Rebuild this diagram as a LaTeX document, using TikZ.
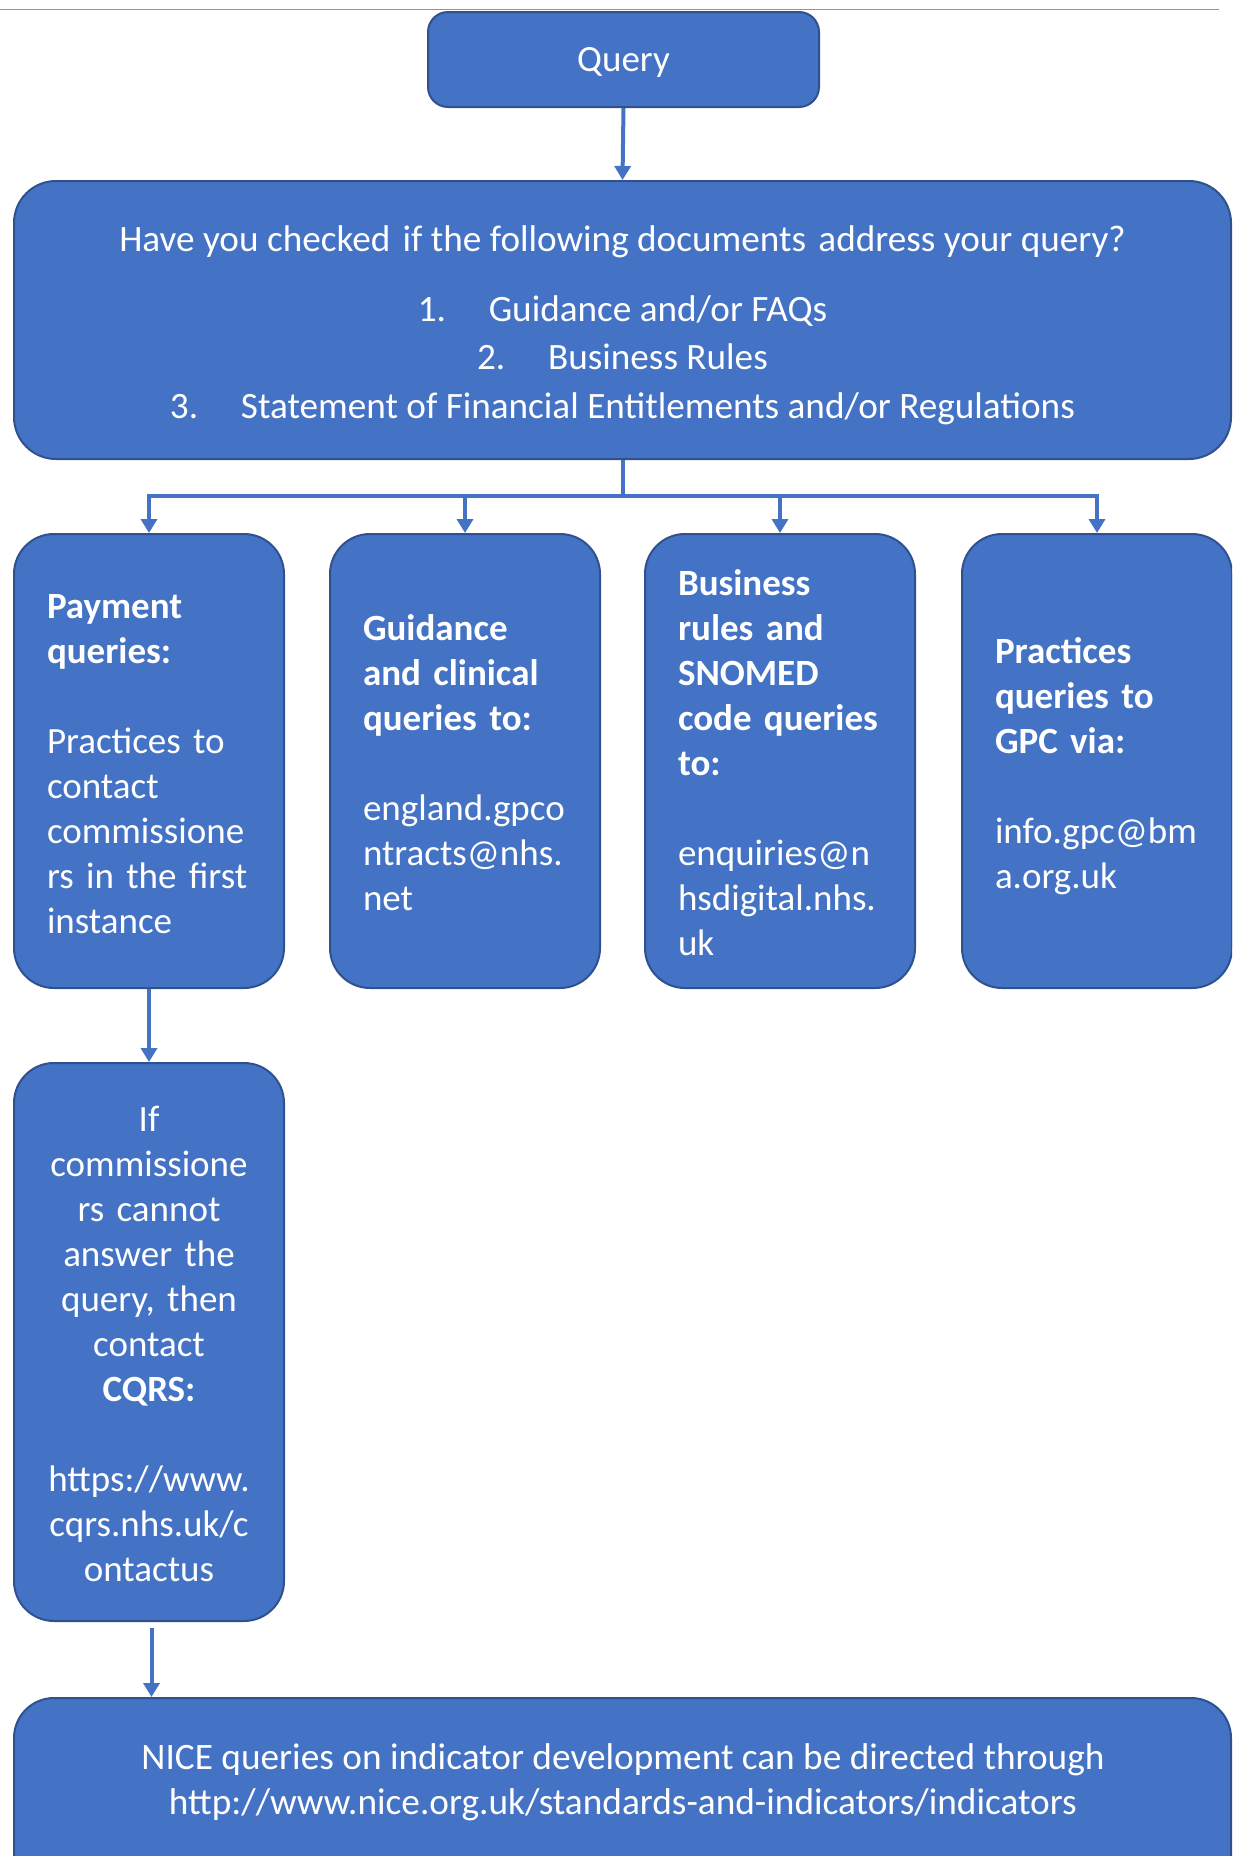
\documentclass[tikz,border=0pt]{standalone}
\usepackage{fontspec}
\setmainfont{Carlito}
\usetikzlibrary{arrows.meta}
\definecolor{boxblue}{HTML}{4472C4}
\definecolor{boxedge}{HTML}{2F528F}
\definecolor{toplinecol}{HTML}{8497B0}
\newcommand{\ws}{\vrule width0pt height34.7pt depth9.8pt\relax}
\newcommand{\wt}{\vrule width0pt height39.5pt depth9.8pt\relax}
\begin{document}
\begin{tikzpicture}[x=1pt,y=-1pt,
  box/.style={draw=boxedge, line width=2pt, fill=boxblue, rounded corners=40pt, text=white, font=\fontsize{37}{45}\selectfont, inner sep=0pt},
  boxtext/.style={text=white, font=\fontsize{37.3}{45}\selectfont, inner sep=0pt},
  conn/.style={draw=boxblue, line width=4pt},
  arr/.style={draw=boxblue, line width=4pt, -{Triangle[width=16pt,length=14pt]}}]
\useasboundingbox (0,0) rectangle (1232,1856);
\clip (0,0) rectangle (1232,1856);
\draw[toplinecol, line width=1.5pt] (0,9.5) -- (1219,9.5);

\node[box, rounded corners=20pt, minimum width=391pt, minimum height=95pt] (query) at (623.5,59.5) {\ws Query};

\node[box, rounded corners=42pt, minimum width=1217pt, minimum height=278pt, align=center, font=\fontsize{37.2}{48}\selectfont] (main) at (622.5,320)
  {\wt Have you checked\hspace{4pt} if the following documents\hspace{4pt} address your query?\\[21.5pt]
   \makebox[71pt][l]{1.}Guidance and/or FAQs\\[0.5pt]
   \makebox[71pt][l]{2.}Business Rules\\[0.5pt]
   \ws\makebox[71pt][l]{3.}Statement of Financial Entitlements and/or Regulations};

\node[box, minimum width=270pt, minimum height=454pt, text width=204pt, align=left] (b1) at (149,761)
  {\wt\textbf{Payment}\\\textbf{queries:}\\[45pt]Practices to\\contact\\commissione\\rs in the first\\\ws instance};
\node[box, minimum width=270pt, minimum height=454pt, text width=204pt, align=left] (b2) at (465,761)
  {\wt\textbf{Guidance}\\\textbf{and clinical}\\\textbf{queries to:}\\[45pt]england.gpco\\ntracts@nhs.\\\ws net};
\node[box, minimum width=270pt, minimum height=454pt, text width=204pt, align=left] (b3) at (780,761)
  {\wt\textbf{Business}\\\textbf{rules and}\\\textbf{SNOMED}\\\textbf{code queries}\\\textbf{to:}\\[45pt]enquiries@n\\hsdigital.nhs.\\\ws uk};
\node[box, minimum width=270pt, minimum height=454pt, text width=204pt, align=left] (b4) at (1097,761)
  {\wt\textbf{Practices}\\\textbf{queries to}\\\textbf{GPC via:}\\[45pt]info.gpc@bm\\\ws a.org.uk};

\node[box, minimum width=270pt, minimum height=558pt, text width=204pt, align=center] (b5) at (149,1342)
  {\wt If\\commissione\\rs cannot\\answer the\\query, then\\contact\\\textbf{CQRS:}\\[45pt]https://www.\\cqrs.nhs.uk/c\\\ws ontactus};

\node[box, minimum width=1217pt, minimum height=200pt, anchor=north] (nice) at (622.5,1697) {};
\node[boxtext, align=center] (nicetext) at (623,1780)
  {\ws NICE queries on indicator development can be directed through\\\ws http://www.nice.org.uk/standards-and-indicators/indicators};

\draw[arr] (query.south) -- (main.north);
\path (main.south) ++(0,36) coordinate (j);
\draw[conn] (main.south) -- (j);
\foreach \b in {b1,b2,b3,b4} \draw[arr] (j) -| (\b.north);
\draw[arr] (b1.south) -- (b5.north);
\draw[arr] ([xshift=2.5pt,yshift=-6pt]b5.south) -- ([xshift=2.5pt]b5.south |- nice.north);
\end{tikzpicture}
\end{document}
